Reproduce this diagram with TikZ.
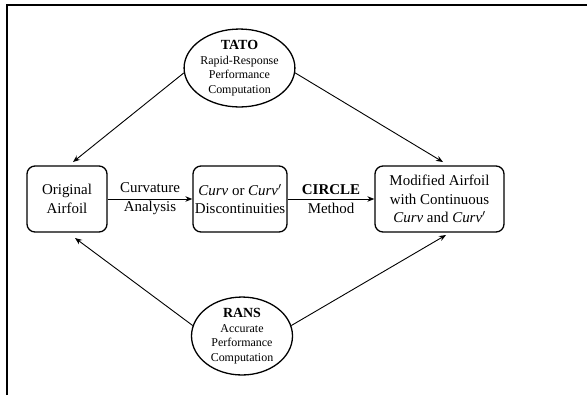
\documentclass[tikz,border=0pt]{standalone}
\usepackage{fontspec}
\setmainfont{Liberation Serif}
\usetikzlibrary{shapes.geometric,arrows.meta}
\begin{document}
\begin{tikzpicture}[x=1bp,y=-1bp,
  box/.style={draw,line width=1.3bp,rounded corners=8bp,align=center,inner sep=0pt,
    minimum height=66bp,font=\fontsize{15}{18.5}\selectfont},
  oval/.style={draw,ellipse,line width=1.3bp,align=center,inner sep=0pt,
    minimum width=101bp,minimum height=77bp,font=\fontsize{12}{14.5}\selectfont},
  conn/.style={line width=0.9bp,-{Stealth[length=7bp,width=5.5bp]}},
  lbl/.style={align=center,font=\fontsize{15}{19}\selectfont,inner sep=0pt}]
\useasboundingbox (0,0) rectangle (587,395);
\draw[line width=2bp] (7,395) -- (7,5) -- (587,5);
\node[box,minimum width=80bp] (orig) at (67,199) {Original\\Airfoil};
\node[box,minimum width=94bp] (disc) at (240,199) {\textit{Curv} or \textit{Curv}$'$\\Discontinuities};
\node[box,minimum width=129bp] (mod) at (439.5,199) {Modified Airfoil\\with Continuous\\\textit{Curv} and \textit{Curv}$'$};
\node[oval] (tato) at (239.5,68) {{\fontsize{14}{15}\selectfont\bfseries TATO}\\Rapid-Response\\Performance\\Computation};
\node[oval,minimum height=75bp] (rans) at (242,336) {{\fontsize{14}{15}\selectfont\bfseries RANS}\\Accurate\\Performance\\Computation};
\draw[conn] (orig) -- node[lbl] {Curvature\\Analysis} (disc);
\draw[conn] (disc) -- node[lbl] {\textbf{CIRCLE}\\Method} (mod);
\draw[conn] (tato.185) -- (73,162);
\draw[conn] (tato.-5) -- (443,162);
\draw[conn] (rans.168) -- (75,238);
\draw[conn] (rans.12) -- (446,235);
\end{tikzpicture}
\end{document}
